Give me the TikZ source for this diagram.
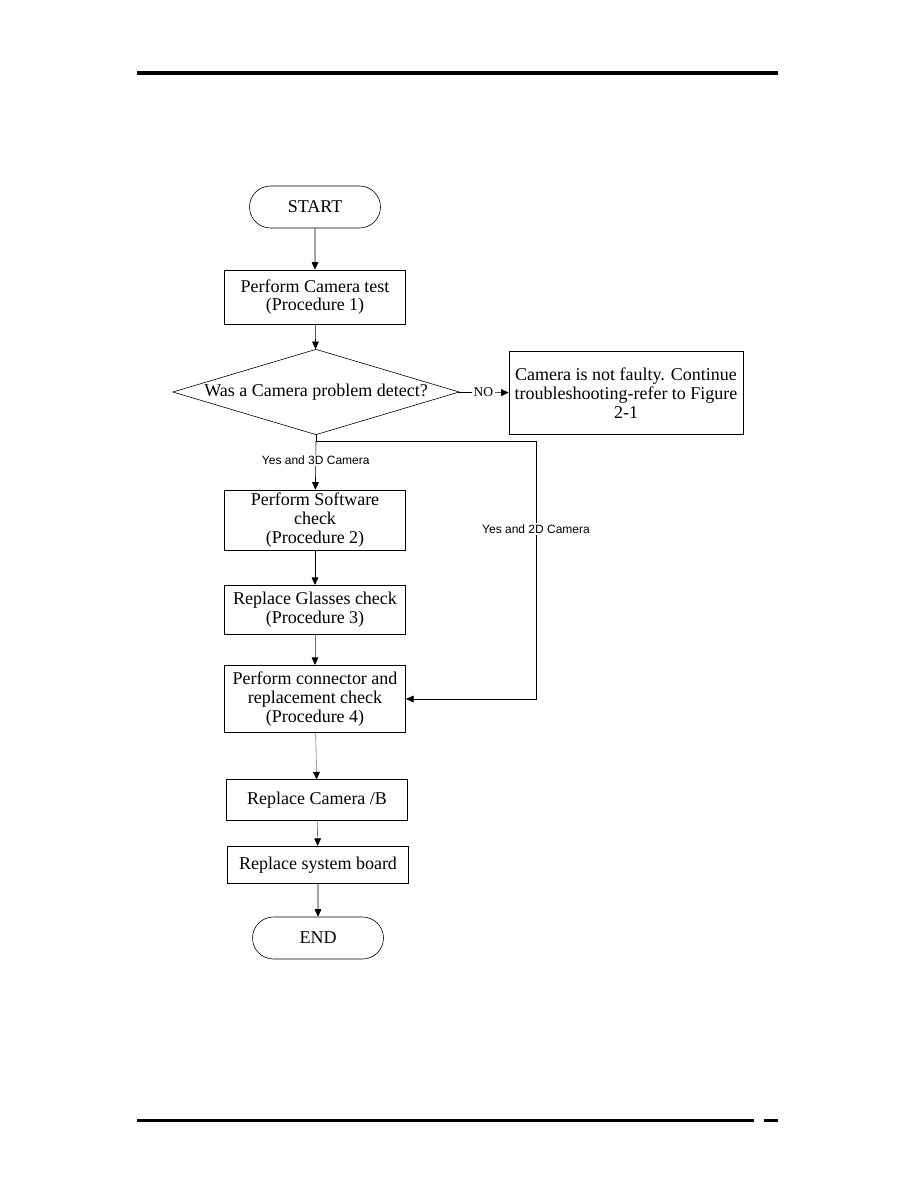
\documentclass[tikz,border=0pt]{standalone}
\usepackage{fontspec}
\setmainfont{Liberation Serif}
\setsansfont{Liberation Sans}
\usetikzlibrary{arrows.meta,positioning,shapes.geometric,shapes.misc}
\tikzset{
  lepes/.style={draw,thin,align=center,font=\fontsize{12}{12.5}\selectfont,minimum width=121pt,
                inner sep=2pt},
  vege/.style={draw,thin,rounded rectangle,minimum width=94pt,minimum height=28pt,
               font=\fontsize{12}{12.5}\selectfont},
  dontes/.style={draw,thin,diamond,aspect=3.4,inner sep=0pt,minimum width=191pt,minimum height=57pt,
                 font=\fontsize{12}{12.5}\selectfont},
  nyil/.style={thin,-{Triangle[length=5pt,width=4.5pt]}},
  hnyil/.style={thin,draw=black!55,-{Triangle[length=5pt,width=4.5pt,color=black]}},
  cimke/.style={font=\sffamily\fontsize{8}{9}\selectfont,fill=white,inner sep=1pt},
  nocimke/.style={font=\fontsize{9}{10}\selectfont,fill=white,inner sep=1pt},
}
\begin{document}
\begin{tikzpicture}[x=0.6667pt,y=-0.6667pt]
  \useasboundingbox (0,0) rectangle (918,1188);
  % page rules
  \draw[line width=2.7pt] (137,73) -- (778,73);
  \draw[line width=2pt] (137,1120) -- (754,1120);
  \draw[line width=2pt] (764,1120) -- (778,1120);
  % nodes
  \node[vege] (s) at (315,207) {START};
  \node[lepes,minimum height=36pt] (a) at (315,297) {Perform Camera test\\(Procedure 1)};
  \node[dontes] (d) at (316,392) {Was a Camera problem detect?};
  \node[lepes,minimum width=156pt,minimum height=55pt] (n) at (626,393)
    {Camera is not faulty. Continue\\troubleshooting-refer to Figure\\2-1};
  \node[lepes,minimum height=40pt] (b) at (315,520) {Perform Software\\check\\(Procedure 2)};
  \node[lepes,minimum height=33pt] (c) at (315,610) {Replace Glasses check\\(Procedure 3)};
  \node[lepes,minimum height=45pt] (e) at (315,699) {Perform connector and\\replacement check\\(Procedure 4)};
  \node[lepes,minimum height=27pt] (f) at (317,800) {Replace Camera /B};
  \node[lepes,minimum height=25pt] (g) at (318,865) {Replace system board};
  \node[vege] (v) at (318,938) {END};
  \coordinate (ag) at (316,441);
  \coordinate (jobb) at (536,699);
  % connectors
  \draw[nyil] (s) -- (a);
  \draw[nyil] (a) -- (d);
  \draw[nyil] (d) -- node[nocimke] {NO} (n);
  \draw (d.south) -- (ag);
  \draw[nyil] (ag) -- node[cimke,pos=0.4] {Yes and 3D Camera} (b);
  \draw[nyil] (ag) -| node[cimke,pos=0.67] {Yes and 2D Camera} (jobb) -- (e.east);
  \draw[nyil] (b) -- (c);
  \draw[hnyil] (c) -- (e);
  \draw[hnyil] (e) -- (f);
  \draw[hnyil] (f) -- (g);
  \draw[nyil] (g) -- (v);
\end{tikzpicture}
\end{document}
